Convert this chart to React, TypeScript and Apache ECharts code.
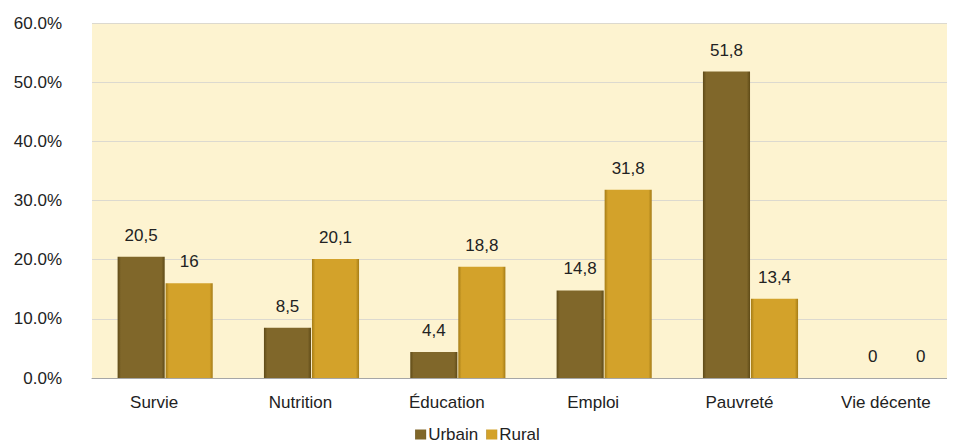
import React, { useEffect, useRef } from "react";
import * as echarts from "echarts";

const categories = ["Survie", "Nutrition", "Éducation", "Emploi", "Pauvreté", "Vie décente"];
const urbain = [20.5, 8.5, 4.4, 14.8, 51.8, 0];
const rural = [16, 20.1, 18.8, 31.8, 13.4, 0];

const FONT = "'Liberation Sans', Arial, sans-serif";

const fmt = (v: number) => String(v).replace(".", ",");

// Bars get darker side edges to suggest a bevelled block.
const barGradient = (edge: string, mid: string) =>
  new echarts.graphic.LinearGradient(0, 0, 1, 0, [
    { offset: 0, color: edge },
    { offset: 0.07, color: mid },
    { offset: 0.93, color: mid },
    { offset: 1, color: edge },
  ]);

export default function App() {
  const ref = useRef<HTMLDivElement>(null);
  useEffect(() => {
    if (!ref.current) return;
    const chart = echarts.init(ref.current, undefined, { renderer: "svg" });
    const label = {
      show: true,
      position: "top" as const,
      distance: 13,
      color: "#222",
      fontSize: 17,
      fontFamily: FONT,
      formatter: (p: any) => fmt(p.value),
    };
    chart.setOption({
      animation: false,
      textStyle: { fontFamily: FONT },
      grid: {
        left: 92,
        right: -15,
        top: 23,
        bottom: 70,
        outerBoundsMode: "none",
        show: true,
        backgroundColor: "#fdf3d0",
        borderWidth: 0,
      },
      legend: {
        bottom: 0,
        left: "center",
        itemWidth: 11,
        itemHeight: 10,
        itemGap: 8,
        icon: "rect",
        textStyle: { fontSize: 17, color: "#222", fontFamily: FONT, padding: [0, 0, 0, -3] },
        data: ["Urbain", "Rural"],
      },
      xAxis: {
        type: "category",
        data: categories,
        axisTick: { show: false },
        axisLine: { lineStyle: { color: "#a6a6a6", width: 1 } },
        axisLabel: {
          fontSize: 17,
          color: "#222",
          fontFamily: FONT,
          margin: 16,
          padding: [0, 22, 0, 0],
        },
      },
      yAxis: {
        type: "value",
        min: 0,
        max: 60,
        interval: 10,
        axisLine: { show: false },
        axisTick: { show: false },
        splitLine: { lineStyle: { color: "#dcd9cf", width: 1 } },
        axisLabel: {
          fontSize: 17,
          color: "#222",
          fontFamily: FONT,
          margin: 30,
          formatter: (v: number) => v.toFixed(1) + "%",
        },
      },
      series: [
        {
          name: "Urbain",
          type: "bar",
          data: urbain,
          barGap: "2%",
          barCategoryGap: "35%",
          itemStyle: { color: barGradient("#5e4a17", "#80672a") },
          label,
        },
        {
          name: "Rural",
          type: "bar",
          data: rural,
          itemStyle: { color: barGradient("#a57c16", "#d3a22a") },
          label,
        },
      ],
    });
    return () => chart.dispose();
  }, []);
  return <div ref={ref} style={{ width: 955, height: 448, marginLeft: -8, marginTop: -8 }} />;
}
